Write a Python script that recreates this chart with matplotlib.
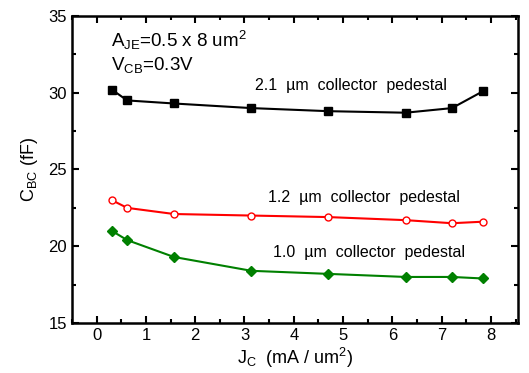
import numpy as np
import matplotlib.pyplot as plt
from matplotlib.ticker import MultipleLocator

plt.rcParams['font.family'] = ['Liberation Sans', 'DejaVu Sans']
plt.rcParams['mathtext.fontset'] = 'custom'
plt.rcParams['mathtext.rm'] = 'Liberation Sans'
plt.rcParams['mathtext.it'] = 'Liberation Sans'

# current density (mA/um^2)
jc = [0.31, 0.62, 1.57, 3.14, 4.70, 6.27, 7.21, 7.84]
# C_BC (fF) per collector pedestal width
cbc_21 = [30.2, 29.5, 29.3, 29.0, 28.8, 28.7, 29.0, 30.1]
cbc_12 = [23.0, 22.5, 22.1, 22.0, 21.9, 21.7, 21.5, 21.6]
cbc_10 = [21.0, 20.4, 19.3, 18.4, 18.2, 18.0, 18.0, 17.9]

fig = plt.figure(figsize=(5.29, 3.73), dpi=100)
ax = fig.add_axes([72/529, 1 - 323/373, (518 - 72)/529, (323 - 16)/373])

ax.plot(jc, cbc_21, color='black', marker='s', markersize=6, lw=1.5)
ax.plot(jc, cbc_12, color='red', marker='o', markersize=5, mfc='white', mec='red', lw=1.5)
ax.plot(jc, cbc_10, color='green', marker='D', markersize=5, lw=1.5)

ax.text(3.21, 30.45, '2.1  µm  collector  pedestal', fontsize=11.5, va='center')
ax.text(3.48, 23.2, '1.2  µm  collector  pedestal', fontsize=11.5, va='center')
ax.text(3.57, 19.6, '1.0  µm  collector  pedestal', fontsize=11.5, va='center')

ax.text(0.29, 33.4, r'A$_{\mathrm{JE}}$=0.5 x 8 um$^{2}$', fontsize=13.5, va='center')
ax.text(0.29, 31.8, r'V$_{\mathrm{CB}}$=0.3V', fontsize=13.5, va='center')

ax.set_xlim(-0.5, 8.55)
ax.set_ylim(15, 35)
ax.xaxis.set_major_locator(MultipleLocator(1))
ax.xaxis.set_minor_locator(MultipleLocator(0.5))
ax.yaxis.set_major_locator(MultipleLocator(5))
ax.yaxis.set_minor_locator(MultipleLocator(2.5))
ax.tick_params(which='both', direction='in', top=True, right=True, width=1.5, labelsize=12)
ax.tick_params(which='major', length=5)
ax.tick_params(which='minor', length=3)
for s in ax.spines.values():
    s.set_linewidth(1.8)

ax.set_xlabel(r'J$_{\mathrm{C}}$  (mA / um$^{2}$)', fontsize=13, labelpad=2)
ax.set_ylabel(r'C$_{\mathrm{BC}}$ (fF)', fontsize=13, labelpad=6)

fig.savefig('out.png', dpi=100)
